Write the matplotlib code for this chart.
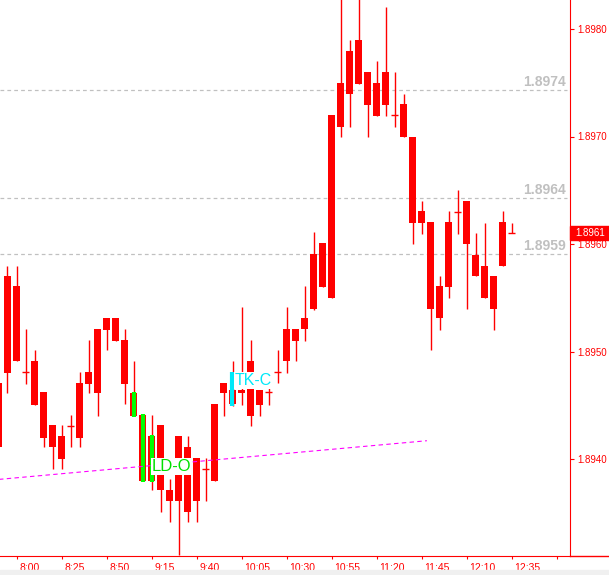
import matplotlib
matplotlib.use('Agg')
import matplotlib.pyplot as plt
import matplotlib.patches as patches
import matplotlib.transforms as mtransforms
import numpy as np

# 5-minute bars, 7:50 .. 12:35
times = ['7:50', '7:55', '8:00', '8:05', '8:10', '8:15', '8:20', '8:25', '8:30', '8:35',
         '8:40', '8:45', '8:50', '8:55', '9:00', '9:05', '9:10', '9:15', '9:20', '9:25',
         '9:30', '9:35', '9:40', '9:45', '9:50', '9:55', '10:00', '10:05', '10:10', '10:15',
         '10:20', '10:25', '10:30', '10:35', '10:40', '10:45', '10:50', '10:55', '11:00', '11:05',
         '11:10', '11:15', '11:20', '11:25', '11:30', '11:35', '11:40', '11:45', '11:50', '11:55',
         '12:00', '12:05', '12:10', '12:15', '12:20', '12:25', '12:30', '12:35']
opens = [1.89471, 1.89480, 1.89561, 1.89481, 1.89491, 1.89462, 1.89432, 1.89400, 1.89431, 1.89420,
         1.89470, 1.89461, 1.89520, 1.89531, 1.89511, 1.89461, 1.89441, 1.89380, 1.89432, 1.89371,
         1.89361, 1.89411, 1.89361, 1.89391, 1.89380, 1.89461, 1.89464, 1.89461, 1.89440, 1.89464,
         1.89462, 1.89481, 1.89491, 1.89510, 1.89521, 1.89540, 1.89560, 1.89550, 1.89709, 1.89740,
         1.89790, 1.89760, 1.89750, 1.89729, 1.89720, 1.89730, 1.89700, 1.89631, 1.89620, 1.89531,
         1.89560, 1.89630, 1.89640, 1.89590, 1.89580, 1.89570, 1.89580, 1.89610]
highs = [1.89471, 1.89580, 1.89580, 1.89521, 1.89501, 1.89462, 1.89432, 1.89432, 1.89441, 1.89481,
         1.89511, 1.89521, 1.89531, 1.89531, 1.89521, 1.89491, 1.89441, 1.89441, 1.89432, 1.89381,
         1.89421, 1.89421, 1.89401, 1.89401, 1.89451, 1.89471, 1.89491, 1.89541, 1.89511, 1.89464,
         1.89468, 1.89501, 1.89541, 1.89521, 1.89561, 1.89611, 1.89601, 1.89720, 1.89840, 1.89790,
         1.89840, 1.89760, 1.89770, 1.89820, 1.89760, 1.89740, 1.89700, 1.89640, 1.89620, 1.89570,
         1.89631, 1.89650, 1.89640, 1.89610, 1.89620, 1.89570, 1.89631, 1.89620]
lows = [1.89411, 1.89461, 1.89491, 1.89470, 1.89450, 1.89411, 1.89391, 1.89391, 1.89411, 1.89411,
        1.89461, 1.89440, 1.89501, 1.89510, 1.89451, 1.89440, 1.89380, 1.89371, 1.89351, 1.89341,
        1.89311, 1.89341, 1.89341, 1.89361, 1.89380, 1.89440, 1.89449, 1.89450, 1.89431, 1.89440,
        1.89450, 1.89471, 1.89480, 1.89491, 1.89510, 1.89539, 1.89560, 1.89550, 1.89700, 1.89709,
        1.89749, 1.89700, 1.89719, 1.89719, 1.89709, 1.89700, 1.89600, 1.89609, 1.89501, 1.89520,
        1.89550, 1.89609, 1.89540, 1.89570, 1.89550, 1.89520, 1.89580, 1.89610]
closes = [1.89411, 1.89570, 1.89491, 1.89481, 1.89450, 1.89420, 1.89411, 1.89421, 1.89431, 1.89471,
          1.89481, 1.89521, 1.89531, 1.89510, 1.89470, 1.89440, 1.89380, 1.89421, 1.89371, 1.89361,
          1.89421, 1.89351, 1.89401, 1.89391, 1.89451, 1.89471, 1.89451, 1.89464, 1.89491, 1.89450,
          1.89462, 1.89481, 1.89521, 1.89521, 1.89531, 1.89591, 1.89601, 1.89720, 1.89750, 1.89780,
          1.89749, 1.89729, 1.89719, 1.89760, 1.89720, 1.89700, 1.89620, 1.89620, 1.89540, 1.89561,
          1.89620, 1.89630, 1.89600, 1.89570, 1.89550, 1.89540, 1.89620, 1.89610]

# signal bars drawn over candles
green_times = ['9:05', '9:10', '9:15']
cyan_time = '10:00'
cyan_hi, cyan_lo = 1.89481, 1.89449

# grey price levels
levels = [1.89743, 1.89643, 1.89591]
level_labels = ['1.8974', '1.8964', '1.8959']

# magenta trend line (bar index, price)
trend_x = [0.0, 47.6]
trend_p = [1.89381, 1.89417]

last_price = 1.8961
y_ticks = [1.8940, 1.8950, 1.8960, 1.8970, 1.8980]

RED = '#FF0000'
W, H = 609, 575
fig = plt.figure(figsize=(W / 100, H / 100), dpi=100)
fig.patches.append(patches.Rectangle((0, 0), 1, 5 / H, transform=fig.transFigure,
                                     color='#F0F0F0', zorder=0))
ax = fig.add_axes([0, 19 / H, 570 / W, 556 / H])

x = np.arange(len(times))
o = np.array(opens); c = np.array(closes)
hi = np.array(highs); lo = np.array(lows)
px = 1 / 9.0  # one pixel in bar units

# wicks
ax.vlines(x, lo, hi, color=RED, lw=1.0, zorder=2)
# bodies
body_lo = np.minimum(o, c)
body_h = np.abs(c - o)
is_doji = body_h < 1e-6
ax.bar(x[~is_doji], body_h[~is_doji], bottom=body_lo[~is_doji], width=7 * px,
       color=RED, linewidth=0, zorder=3)
ax.hlines(o[is_doji], x[is_doji] - 3.5 * px, x[is_doji] + 3.5 * px, color=RED, lw=1.0, zorder=3)

# green signal bars
for t in green_times:
    k = times.index(t)
    ax.vlines(k, body_lo[k] - 0.00001, body_lo[k] + body_h[k] + 0.00001,
              color='#00FF00', lw=3.0, zorder=4)
k = times.index(cyan_time)
ax.vlines(k - 0.1, cyan_lo, cyan_hi, color='#00E8F8', lw=3.0, zorder=4)

# trend line
ax.plot(trend_x, trend_p, color='#FF00FF', lw=0.8, ls=(0, (4, 3)), zorder=5)

# grey levels
for lv, lab in zip(levels, level_labels):
    ax.axhline(lv, xmin=0, xmax=0.995, color='#C0C0C0', lw=0.9, ls=(0, (3, 2.5)), zorder=1)
    ax.text(0.993, lv + 0.00001, lab, transform=ax.get_yaxis_transform(), ha='right', va='bottom',
            color='#C0C0C0', fontsize=10, fontweight='bold', family='Liberation Sans', zorder=6)

# text labels
k = times.index('9:15')
ax.text(k + 0.05, 1.89393, 'LD-O', color='#00E000', fontsize=12, family='Liberation Sans',
        ha='left', va='center', zorder=7,
        bbox=dict(boxstyle='square,pad=0.05', fc='white', ec='none'))
k = times.index('10:00')
ax.text(k + 0.2, 1.89473, 'TK-C', color='#00E8F8', fontsize=11.5, family='Liberation Sans',
        ha='left', va='center', zorder=7,
        bbox=dict(boxstyle='square,pad=0.05', fc='white', ec='none'))

ax.set_xlim(2 - 16.5 / 9, 2 + (570 - 16.5) / 9)
ax.set_ylim(1.8980 - 527 / 107500, 1.8980 + 29 / 107500)

# axes styling
for s in ['top', 'left']:
    ax.spines[s].set_visible(False)
ax.spines['right'].set_color(RED)
ax.spines['bottom'].set_color(RED)
ax.yaxis.tick_right()
ax.set_yticks(y_ticks)
ax.set_yticklabels(['%.4f' % v for v in y_ticks])
ax.tick_params(axis='y', colors=RED, length=3, pad=2, labelsize=7)
xt = list(range(2, len(times), 5)) + [62]
ax.set_xticks(xt)
ax.set_xticklabels([times[k] if k < len(times) else '' for k in xt])
ax.tick_params(axis='x', colors=RED, length=2.5, pad=2.5, labelsize=7.5)
off = mtransforms.ScaledTranslation(3 / 100, 0, fig.dpi_scale_trans)
for lab in ax.get_xticklabels() + ax.get_yticklabels():
    lab.set_family('Liberation Sans')
for lab in ax.get_xticklabels():
    lab.set_horizontalalignment('left')
    lab.set_transform(lab.get_transform() + off)

# bottom axis line continues past the price scale
fig.add_artist(plt.Line2D([570 / W, 1], [19 / H, 19 / H], color=RED, lw=1.0,
                          transform=fig.transFigure))

# current price box
bt = ax.get_yaxis_transform()
ax.add_patch(patches.Rectangle((1.0, last_price - 7 / 107500), 39 / 570, 14 / 107500,
                               transform=bt, color=RED, clip_on=False, zorder=10))
ax.text(1.0 + 5 / 570, last_price, '%.4f' % last_price, transform=bt, ha='left', va='center',
        color='white', fontsize=7, family='Liberation Sans', zorder=11, clip_on=False)

fig.savefig('out.png', dpi=100)
